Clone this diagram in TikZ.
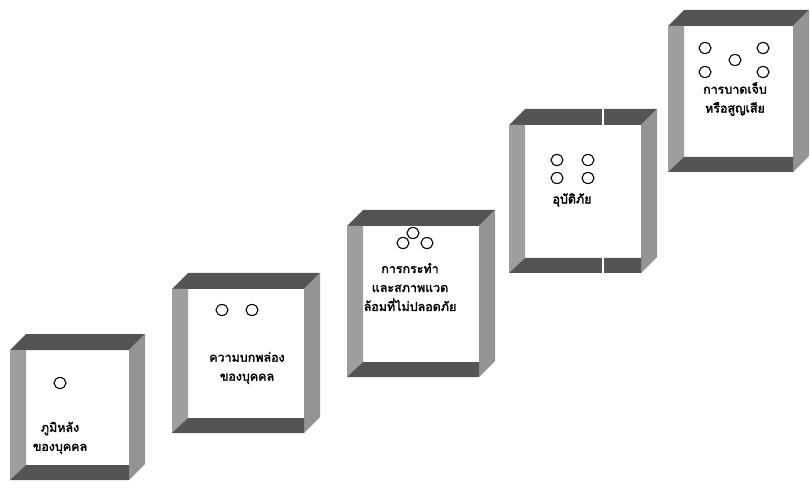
\documentclass[tikz,border=0pt]{standalone}
\usepackage{fontspec}
\newfontfamily\thaifont[Script=Thai,AutoFakeBold=2.2]{Loma}
\usetikzlibrary{calc}
\definecolor{bardark}{gray}{0.33}
\definecolor{barlight}{gray}{0.62}
\definecolor{barmid}{gray}{0.58}
\tikzset{
  darkbar/.style={fill=bardark},
  lightbar/.style={fill=barlight},
  midbar/.style={fill=barmid},
  dot/.style={ellipse, draw=black, line width=1.1bp, minimum width=12bp, minimum height=11bp, inner sep=0pt},
  thaitext/.style={font=\thaifont\bfseries\fontsize{12.5}{19}\selectfont, align=center, text=black, inner sep=0pt},
  gapline/.style={fill=white}
}
\usetikzlibrary{shapes.geometric}
\newcommand\domino[5]{%
  \fill[darkbar] (#2,#3+16) -- (#2+16,#3) -- (#4,#3) -- (#4-16,#3+16) -- cycle;
  \fill[midbar] (#4-16,#3+16) -- (#4,#3) -- (#4,#5-16) -- (#4-16,#5) -- cycle;
  \fill[lightbar] (#2,#3+16) -- (#2+16,#3+16) -- (#2+16,#5-15) -- (#2,#5) -- cycle;
  \fill[darkbar] (#2+16,#5-15) -- (#4-16,#5-15) -- (#4-16,#5) -- (#2,#5) -- cycle;
  \coordinate (#1) at ({(#2+#4)/2},{(#3+#5)/2});
}
\begin{document}
\begin{tikzpicture}[x=1bp,y=-1bp]
\useasboundingbox (0,0) rectangle (810,491);
% boxes
\domino{box1}{10}{334}{145}{480}
\domino{box2}{172}{273}{320}{433}
\domino{box3}{347}{210}{495}{377}
\domino{box4}{509}{109}{657}{273}
\fill[gapline] (601.5,108) rectangle (604.2,126);
\fill[gapline] (601.5,256) rectangle (604.2,274);
\domino{box5}{668}{10}{809}{172}
% box 1
\node[dot] (c11) at (60,383) {};
\node[thaitext] (t1) at (60,438) {ภูมิหลัง\\ของบุคคล};
% box 2
\node[dot] (c21) at (222,310) {};
\node[dot] (c22) at (252,310) {};
\node[thaitext] (t2) at (247,368) {ความบกพล่อง\\ของบุคคล};
% box 3
\node[dot] (c31) at (403,243) {};
\node[dot] (c32) at (413,233) {};
\node[dot] (c33) at (427,243) {};
\node[thaitext] (t3) at (410,287) {การกระทำ\\และสภาพแวด\\ล้อมที่ไม่ปลอดภัย};
% box 4
\node[dot] (c41) at (557,160) {};
\node[dot] (c42) at (588,160) {};
\node[dot] (c43) at (557,178) {};
\node[dot] (c44) at (588,178) {};
\node[thaitext] (t4) at (572,200) {อุบัติภัย};
% box 5
\node[dot] (c51) at (705,48) {};
\node[dot] (c52) at (763,48) {};
\node[dot] (c53) at (735,60) {};
\node[dot] (c54) at (705,72) {};
\node[dot] (c55) at (763,72) {};
\node[thaitext] (t5) at (735,99) {การบาดเจ็บ\\หรือสูญเสีย};
\end{tikzpicture}
\end{document}
